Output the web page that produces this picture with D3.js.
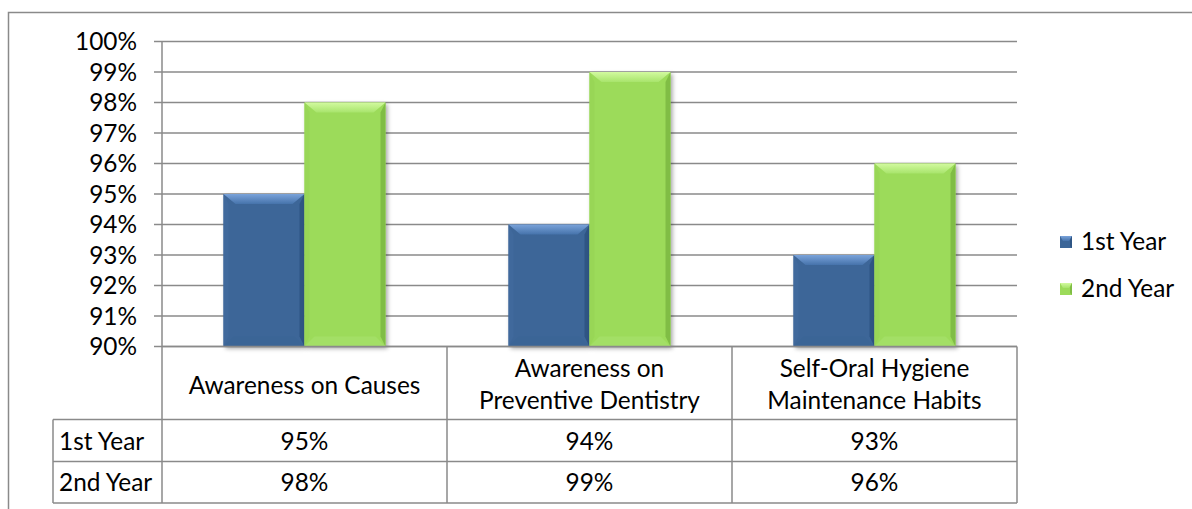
<!DOCTYPE html>
<html>
<head>
<meta charset="utf-8">
<script src="https://cdn.jsdelivr.net/npm/d3@7"></script>
<style>
  html, body { margin: 0; padding: 0; background: #ffffff; }
  svg { display: block; }
  text { font-family: Lato, "Open Sans", sans-serif; fill: #000; }
</style>
</head>
<body>
<svg id="chart" width="1192" height="509"></svg>
<script>
// ---- data ----
const categories = [
  ["Awareness on Causes"],
  ["Awareness on", "Preventive Dentistry"],
  ["Self-Oral Hygiene", "Maintenance Habits"]
];
const categoryKeys = ["Awareness on Causes", "Awareness on Preventive Dentistry", "Self-Oral Hygiene Maintenance Habits"];
const seriesNames = ["1st Year", "2nd Year"];
const firstYear = [0.95, 0.94, 0.93];
const secondYear = [0.98, 0.99, 0.96];
const yTicks = [0.90, 0.91, 0.92, 0.93, 0.94, 0.95, 0.96, 0.97, 0.98, 0.99, 1.00];

const seriesValues = [firstYear, secondYear];

// ---- layout ----
const svg = d3.select("#chart");
const plotLeft = 162, plotRight = 1017, plotTop = 41.5, plotBottom = 346.5;
const tableLeft = 53;
const headerBottom = 419.5, row1Bottom = 461.5, row2Bottom = 503;
const gridColor = "#8a8a8a";

// font size: fit a Calibri-like width
const probe = svg.append("text").attr("font-size", 100).text("Awareness on Causes");
const w100 = probe.node().getComputedTextLength();
probe.remove();
const fs = Math.round(100 * 232 / w100 * 10) / 10;

const y = d3.scaleLinear().domain([0.90, 1.00]).range([plotBottom, plotTop]);
const x0 = d3.scaleBand().domain(categoryKeys).range([plotLeft, plotRight]).padding(0);
const po = (x0.bandwidth() / 81 - 2) / 2;
const x1 = d3.scaleBand().domain(seriesNames).range([0, x0.bandwidth()]).paddingInner(0).paddingOuter(po);

// defs
const defs = svg.append("defs");
const flt = defs.append("filter").attr("id", "shadow").attr("x", "-10%").attr("y", "-10%").attr("width", "130%").attr("height", "130%");
flt.append("feDropShadow").attr("dx", 2).attr("dy", 2).attr("stdDeviation", 2).attr("flood-color", "#000").attr("flood-opacity", 0.35);

const palettes = [
  { body: "#3c6698", topA: "#7aa3da", topB: "#4673ab", left: "#40699c", right: "#2f5584", bottom: "#3b6596", legend: "#3c6698" },
  { body: "#9cdb5a", topA: "#d2fa9f", topB: "#a8e46c", left: "#98d656", right: "#80bd45", bottom: "#a3df66", legend: "#9cdb5a" }
];
palettes.forEach((p, i) => {
  const g = defs.append("linearGradient").attr("id", "topg" + i).attr("x1", 0).attr("y1", 0).attr("x2", 0).attr("y2", 1);
  g.append("stop").attr("offset", "0%").attr("stop-color", p.topA);
  g.append("stop").attr("offset", "100%").attr("stop-color", p.topB);
});

// chart border
svg.append("rect").attr("x", 8.5).attr("y", 12.5).attr("width", 1300).attr("height", 600)
  .attr("fill", "none").attr("stroke", gridColor).attr("stroke-width", 1.5);

// gridlines
svg.append("g").selectAll("line").data(yTicks).join("line")
  .attr("x1", plotLeft - 8).attr("x2", plotRight)
  .attr("y1", d => y(d)).attr("y2", d => y(d))
  .attr("stroke", gridColor).attr("stroke-width", 1.5);

// y axis line
svg.append("line").attr("x1", plotLeft).attr("x2", plotLeft).attr("y1", plotTop).attr("y2", row2Bottom)
  .attr("stroke", gridColor).attr("stroke-width", 1.5);

// y tick labels
svg.append("g").selectAll("text").data(yTicks).join("text")
  .attr("x", 137).attr("y", d => y(d)).attr("dy", "0.36em")
  .attr("text-anchor", "end").attr("font-size", fs)
  .text(d => d3.format(".0%")(d));

// bars
const bev = 10;
const groups = svg.append("g").selectAll("g").data(categoryKeys).join("g")
  .attr("transform", d => `translate(${x0(d)},0)`);

groups.each(function(cat, ci) {
  const g = d3.select(this);
  seriesNames.forEach((s, si) => {
    const p = palettes[si];
    const v = seriesValues[si][ci];
    const bx = x1(s), bw = x1.bandwidth();
    const top = y(v), bot = y(0.90);
    const bg = g.append("g");
    bg.append("rect").attr("x", bx).attr("y", top).attr("width", bw).attr("height", bot - top)
      .attr("fill", p.body).attr("filter", "url(#shadow)");
    // left bevel
    bg.append("polygon").attr("points", [[bx, top], [bx + bev * 0.5, top + bev], [bx + bev * 0.5, bot - bev], [bx, bot]].join(" "))
      .attr("fill", p.left);
    // right bevel
    bg.append("polygon").attr("points", [[bx + bw, top], [bx + bw - bev * 0.5, top + bev], [bx + bw - bev * 0.5, bot - bev], [bx + bw, bot]].join(" "))
      .attr("fill", p.right);
    // bottom bevel
    bg.append("polygon").attr("points", [[bx, bot], [bx + bev, bot - bev], [bx + bw - bev, bot - bev], [bx + bw, bot]].join(" "))
      .attr("fill", p.bottom);
    // top bevel
    bg.append("polygon").attr("points", [[bx, top], [bx + bw, top], [bx + bw - bev * 1.2, top + bev], [bx + bev * 1.2, top + bev]].join(" "))
      .attr("fill", `url(#topg${si})`);
  });
});

// data table
const tbl = svg.append("g");
const hLines = [
  { y: plotBottom, x1: plotLeft, x2: plotRight },
  { y: headerBottom, x1: tableLeft, x2: plotRight },
  { y: row1Bottom, x1: tableLeft, x2: plotRight },
  { y: row2Bottom, x1: tableLeft, x2: plotRight }
];
tbl.selectAll("line.h").data(hLines).join("line").attr("class", "h")
  .attr("x1", d => d.x1).attr("x2", d => d.x2).attr("y1", d => d.y).attr("y2", d => d.y)
  .attr("stroke", gridColor).attr("stroke-width", 1.5);
const vLines = categoryKeys.map(k => x0(k) + x0.bandwidth());
tbl.selectAll("line.v").data(vLines).join("line").attr("class", "v")
  .attr("x1", d => d).attr("x2", d => d).attr("y1", plotBottom).attr("y2", row2Bottom)
  .attr("stroke", gridColor).attr("stroke-width", 1.5);
tbl.append("line").attr("x1", tableLeft).attr("x2", tableLeft).attr("y1", headerBottom).attr("y2", row2Bottom)
  .attr("stroke", gridColor).attr("stroke-width", 1.5);

// header text
categoryKeys.forEach((k, i) => {
  const lines = categories[i];
  const cx = x0(k) + x0.bandwidth() / 2;
  const baselines = lines.length === 1 ? [393.5] : [377, 409];
  lines.forEach((ln, li) => {
    tbl.append("text").attr("x", cx).attr("y", baselines[li]).attr("text-anchor", "middle")
      .attr("font-size", fs).text(ln);
  });
});

// rows
const rowBaselines = [449.5, 491];
seriesNames.forEach((s, si) => {
  tbl.append("text").attr("x", 59).attr("y", rowBaselines[si]).attr("font-size", fs).text(s);
  categoryKeys.forEach((k, ci) => {
    tbl.append("text").attr("x", x0(k) + x0.bandwidth() / 2).attr("y", rowBaselines[si])
      .attr("text-anchor", "middle").attr("font-size", fs)
      .text(d3.format(".0%")(seriesValues[si][ci]));
  });
});

// legend
const legendY = [242, 289];
const lg = svg.append("g").selectAll("g").data(seriesNames).join("g")
  .attr("transform", (d, i) => `translate(1060,${legendY[i]})`);
lg.each(function(s, si) {
  const g = d3.select(this);
  const p = palettes[si];
  g.append("rect").attr("x", 0).attr("y", -6).attr("width", 12).attr("height", 12).attr("fill", p.body);
  g.append("polygon").attr("points", "0,-6 12,-6 9,-1 3,-1").attr("fill", `url(#topg${si})`);
  g.append("polygon").attr("points", "12,-6 12,6 10,4 10,-2").attr("fill", p.right);
  g.append("text").attr("x", 21).attr("y", 7.5).attr("font-size", fs).text(s);
});
</script>
</body>
</html>
